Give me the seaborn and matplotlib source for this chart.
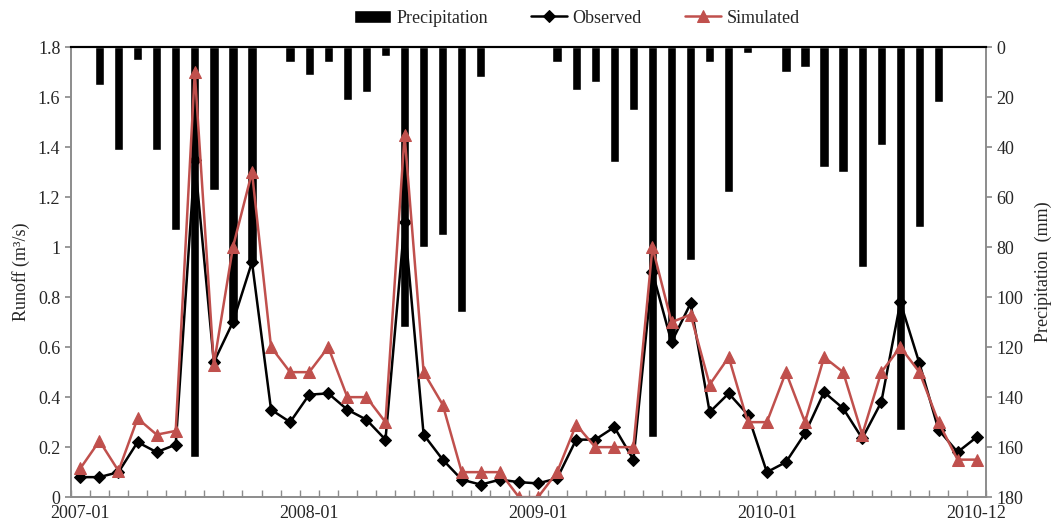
import matplotlib

matplotlib.use("Agg")
import matplotlib.pyplot as plt
import numpy as np
import pandas as pd
import seaborn as sns
from matplotlib.ticker import FixedLocator, FuncFormatter

# monthly series, 2007-01 .. 2010-12
months = pd.date_range("2007-01", "2010-12", freq="MS").strftime("%Y-%m").tolist()

observed = [
    0.08, 0.08, 0.10, 0.22, 0.18, 0.21, 1.35, 0.54, 0.70, 0.94, 0.35, 0.30,
    0.41, 0.415, 0.35, 0.31, 0.23, 1.10, 0.25, 0.15, 0.07, 0.05, 0.07, 0.06,
    0.055, 0.075, 0.23, 0.23, 0.28, 0.15, 0.90, 0.62, 0.775, 0.34, 0.415, 0.33,
    0.10, 0.14, 0.255, 0.42, 0.355, 0.235, 0.38, 0.78, 0.535, 0.27, 0.18, 0.24,
]
simulated = [
    0.115, 0.225, 0.105, 0.315, 0.25, 0.265, 1.70, 0.53, 1.00, 1.30, 0.60, 0.50,
    0.50, 0.60, 0.40, 0.40, 0.30, 1.45, 0.50, 0.37, 0.10, 0.10, 0.10, 0.00,
    0.00, 0.10, 0.29, 0.20, 0.20, 0.20, 1.00, 0.70, 0.73, 0.45, 0.56, 0.30,
    0.30, 0.50, 0.30, 0.56, 0.50, 0.25, 0.50, 0.60, 0.50, 0.30, 0.15, 0.15,
]
precip = [
    0, 15, 41, 5, 41, 73, 164, 57, 110, 87, 0, 6,
    11, 6, 21, 18, 3.5, 112, 80, 75, 106, 12, 0, 0,
    0, 6, 17, 14, 46, 25, 156, 118, 85, 6, 58, 2.5,
    0, 10, 8, 48, 50, 88, 39, 153, 72, 22, 0, 0,
]
label_months = ["2007-01", "2008-01", "2009-01", "2010-01", "2010-12"]

RED = "#C0504D"
GRAY = "#8c8c8c"

df = pd.DataFrame(
    {
        "pos": np.arange(len(months)),
        "month": months,
        "observed": observed,
        "simulated": simulated,
        "precip": precip,
    }
)

sns.set_theme(style="white")
plt.rcParams["font.family"] = ["Liberation Serif", "DejaVu Serif"]
plt.rcParams["font.size"] = 13

fig = plt.figure(figsize=(10.57, 5.30), dpi=100)
ax = fig.add_axes([0.067, 0.062, 0.866, 0.849])
ax2 = ax.twinx()

sns.barplot(
    data=df, x="pos", y="precip", ax=ax2, color="black", width=0.49,
    native_scale=True, saturation=1, label="Precipitation",
)
ax2.set_ylim(180, 0)
ax2.set_yticks(np.arange(0, 181, 20))
ax2.set_ylabel("Precipitation  (mm)", fontsize=13, labelpad=8)

sns.lineplot(
    data=df, x="pos", y="observed", ax=ax, color="black", marker="D",
    markersize=6, linewidth=1.8, markeredgecolor="black", label="Observed",
)
sns.lineplot(
    data=df, x="pos", y="simulated", ax=ax, color=RED, marker="^",
    markersize=8, linewidth=1.8, markeredgecolor=RED, label="Simulated",
)
ax.set_zorder(ax2.get_zorder() + 1)
ax.patch.set_visible(False)

ax.set_xlim(-0.5, len(months) - 0.5)
ax.set_ylim(0, 1.8)
ax.set_yticks(np.arange(0, 1.81, 0.2))
ax.yaxis.set_major_formatter(FuncFormatter(lambda v, p: f"{v:g}"))
ax.set_ylabel("Runoff (m\u00b3/s)", fontsize=13, labelpad=6)
ax.set_xlabel("")

tick_pos = [months.index(m) for m in label_months]
ax.set_xticks(tick_pos)
ax.set_xticklabels(label_months)
ax.xaxis.set_minor_locator(FixedLocator(np.arange(-0.5, len(months), 1.0)))
ax.tick_params(axis="x", which="major", length=0, pad=6, labelsize=13)
ax.tick_params(axis="x", which="minor", direction="in", length=5, color=GRAY, bottom=True)
ax.tick_params(axis="y", which="major", direction="out", length=4, color=GRAY, left=True, labelsize=13)
ax2.tick_params(axis="y", which="major", direction="out", length=4, color=GRAY, right=True, labelsize=13)

for a in (ax, ax2):
    for side in ("left", "right", "bottom"):
        a.spines[side].set_color(GRAY)
        a.spines[side].set_linewidth(1.2)
    a.spines["top"].set_color("black")
    a.spines["top"].set_linewidth(1.5)

h1, l1 = ax2.get_legend_handles_labels()
h2, l2 = ax.get_legend_handles_labels()
for a in (ax, ax2):
    if a.get_legend():
        a.get_legend().remove()
fig.legend(
    h1 + h2, l1 + l2, loc="center", bbox_to_anchor=(0.546, 0.966), ncol=3,
    frameon=False, fontsize=13, columnspacing=2.4, handlelength=2.0,
    handletextpad=0.3,
)

fig.savefig("out.png", dpi=100)
